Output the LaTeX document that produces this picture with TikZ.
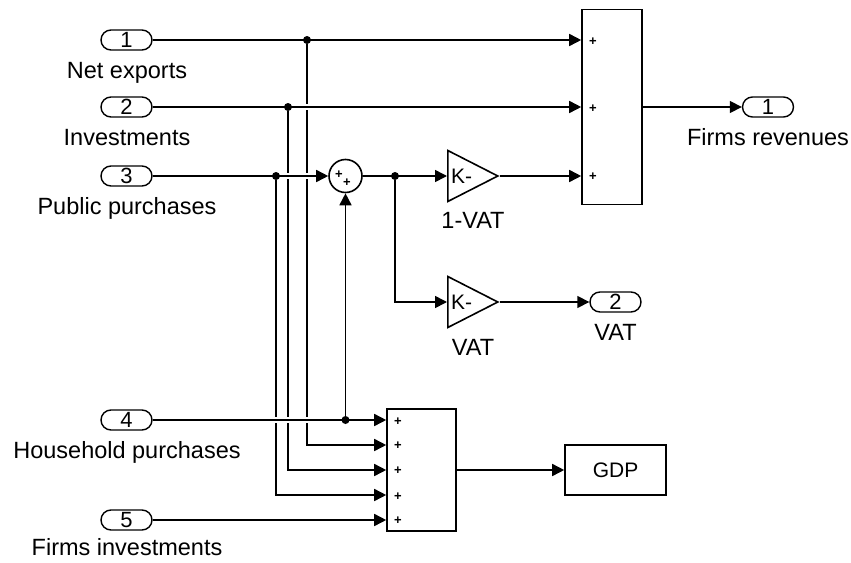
\documentclass[tikz,border=0pt]{standalone}
\usepackage{fontspec}
\setmainfont{Liberation Sans}
\usetikzlibrary{shapes.geometric,arrows.meta,positioning,backgrounds}

\tikzset{
  port/.style={draw,line width=1.4pt,rounded corners=10pt,minimum width=51pt,
    minimum height=20pt,inner sep=0pt,font=\fontsize{22}{22}\selectfont},
  lbl/.style={inner sep=0pt,text height=17pt,text depth=5pt,
    font=\fontsize{23.5}{23.5}\selectfont},
  blk/.style={draw,line width=1.6pt,inner sep=0pt},
  gain/.style={draw,line width=1.6pt,isosceles triangle,isosceles triangle stretches,
    minimum width=51pt,minimum height=50pt,inner sep=0pt,anchor=lower side},
  ktxt/.style={inner sep=0pt,anchor=west,font=\fontsize{21}{21}\selectfont},
  plus/.style={inner sep=0pt,font=\fontsize{13}{13}\selectfont\bfseries},
  sig/.style={line width=1.6pt,-{Triangle[length=12pt,width=12pt]}},
  gap/.style={preaction={draw=white,line width=6pt,-}},
  dot/.style={circle,fill,inner sep=0pt,minimum size=8pt}
}

\begin{document}
\begin{tikzpicture}[x=1pt,y=-1pt]
        \useasboundingbox (0,0) rectangle (851,562);

        % Inports
        \node[port] (in1) at (126.5,40) {1};
        \node[lbl] (in1lbl) at (127,72) {Net exports};
        \node[port] (in2) at (126.5,107) {2};
        \node[lbl] (in2lbl) at (127,139) {Investments};
        \node[port] (in3) at (126.5,176) {3};
        \node[lbl] (in3lbl) at (127,208) {Public purchases};
        \node[port] (in4) at (126.5,420) {4};
        \node[lbl] (in4lbl) at (127,452) {Household purchases};
        \node[port] (in5) at (126.5,520) {5};
        \node[lbl] (in5lbl) at (127,549) {Firms investments};

        % Sum blocks
        \node[blk,minimum width=60pt,minimum height=195pt] (sumA) at (612,107) {};
        \node[plus] (pA1) at (593,42) {+};
        \node[plus] (pA2) at (593,109) {+};
        \node[plus] (pA3) at (593,177) {+};

        \node[blk,minimum width=69pt,minimum height=122pt] (sumB) at (421.5,470) {};
        \node[plus] (pB1) at (398,422) {+};
        \node[plus] (pB2) at (398,446) {+};
        \node[plus] (pB3) at (398,471) {+};
        \node[plus] (pB4) at (398,497) {+};
        \node[plus] (pB5) at (398,521) {+};

        \node[blk,circle,minimum size=33pt] (sumC) at (345.5,176) {};
        \node[plus] (pC1) at (339,175) {+};
        \node[plus] (pC2) at (347,183) {+};

        % Gains
        \node[gain] (g1) at (447,176) {};
        \node[ktxt] (g1k) at ([xshift=4pt]g1.lower side) {K-};
        \node[lbl] (g1lbl) at (473,222) {1-VAT};
        \node[gain] (g2) at (447,302) {};
        \node[ktxt] (g2k) at ([xshift=4pt]g2.lower side) {K-};
        \node[lbl] (g2lbl) at (473,349) {VAT};

        % Outports and GDP
        \node[port] (out1) at (768,107) {1};
        \node[lbl] (out1lbl) at (768,139) {Firms revenues};
        \node[port] (out2) at (615.5,302) {2};
        \node[lbl] (out2lbl) at (615.5,334) {VAT};
        \node[blk,minimum width=101pt,minimum height=50pt,
          font=\fontsize{21}{21}\selectfont] (gdp) at (615.5,470) {GDP};

        % Branch points
        \node[dot] (d1) at (307,40) {};
        \node[dot] (d2) at (288,107) {};
        \node[dot] (d3) at (276,176) {};
        \node[dot] (d4) at (sumC |- in4) {};
        \node[dot] (d5) at (395,176) {};

        \begin{scope}[on background layer]
          % taps down to the lower sum
          \draw[sig] (d1) |- (sumB.west |- 0,445);
          \draw[sig] (d2) |- (sumB.west |- 0,470);
          \draw[sig] (d3) |- (sumB.west |- 0,495);
          \draw[sig] (d4) -- (sumC);
          \draw[sig] (d5) |- (g2.lower side);

          % main signal lines (crossing ones break the verticals)
          \draw[sig] (in1) -- (sumA.west |- in1);
          \draw[sig,gap] (in2) -- (sumA.west |- in2);
          \draw[sig,gap] (in3) -- (sumC);
          \draw[sig,gap] (in4) -- (sumB.west |- in4);
          \draw[sig] (in5) -- (sumB.west |- in5);
          \draw[sig] (sumC) -- (g1.lower side);
          \draw[sig] (g1.apex) -- (sumA.west |- g1.apex);
          \draw[sig] (g2.apex) -- (out2);
          \draw[sig] (sumA) -- (out1);
          \draw[sig] (sumB) -- (gdp);
        \end{scope}
\end{tikzpicture}
\end{document}
